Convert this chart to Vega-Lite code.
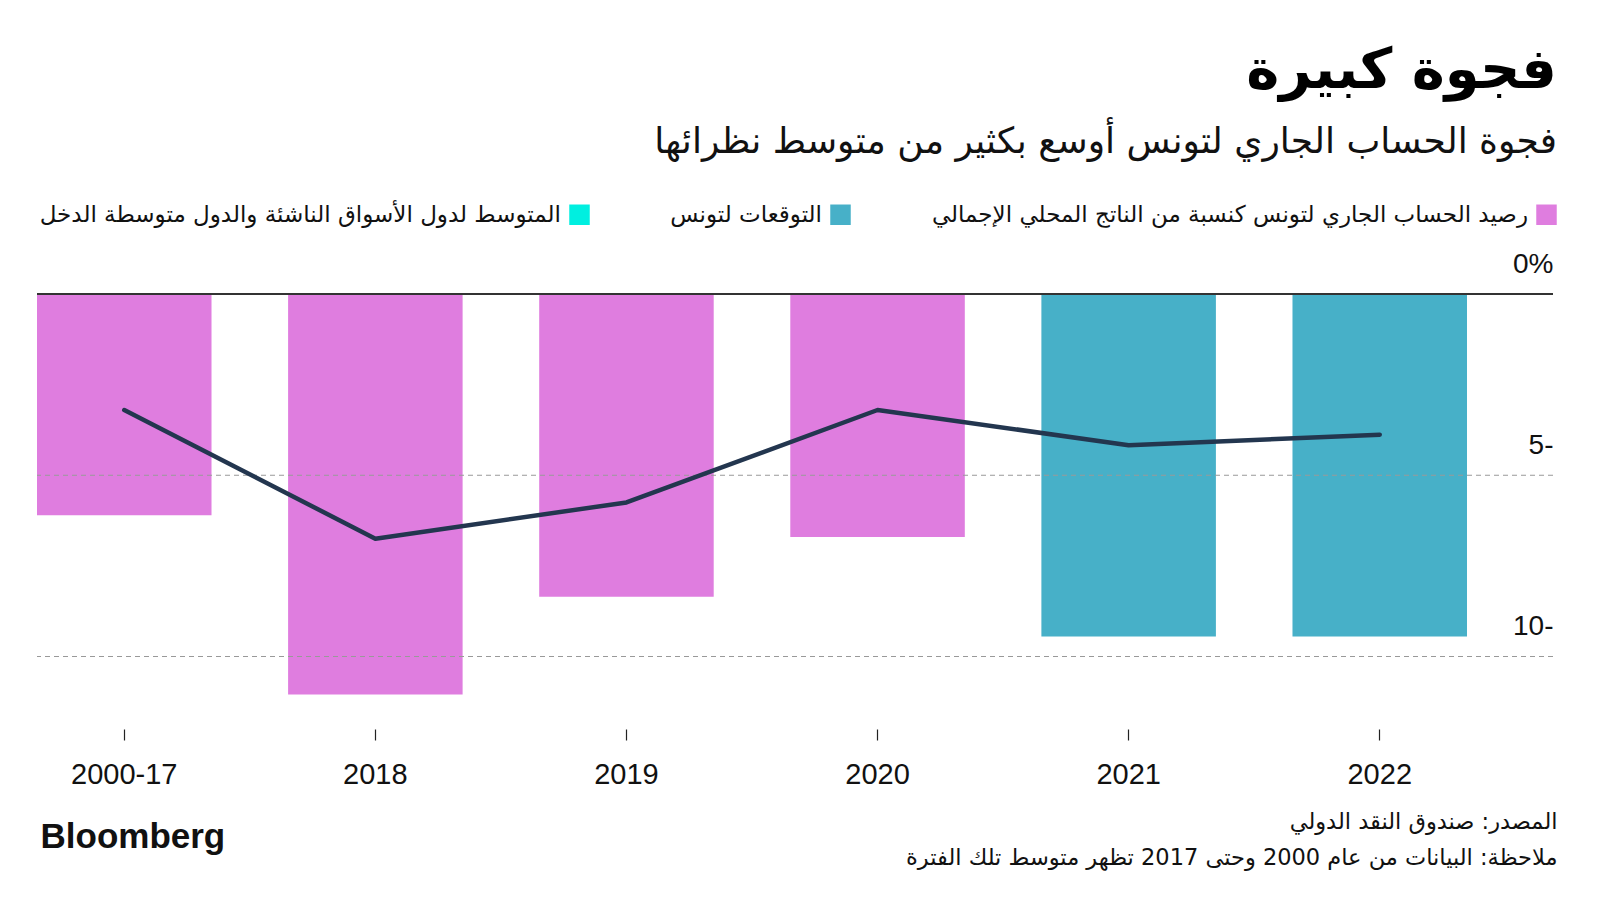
{
  "$schema": "https://vega.github.io/schema/vega-lite/v6.json",
  "width": 1516,
  "height": 435,
  "padding": {"left": 36, "top": 43, "right": 10, "bottom": 10},
  "background": "white",
  "config": {"view": {"stroke": null}, "font": "Liberation Sans"},
  "title": {
    "text": "فجوة كبيرة",
    "subtitle": "فجوة الحساب الجاري لتونس أوسع بكثير من متوسط نظرائها",
    "anchor": "end",
    "orient": "top",
    "font": "DejaVu Sans",
    "fontSize": 56,
    "fontWeight": "bold",
    "color": "#000000",
    "subtitleFont": "DejaVu Sans",
    "subtitleFontSize": 36,
    "subtitleColor": "#111111",
    "subtitlePadding": 25,
    "offset": 42
  },
  "data": {
    "values": [
      {"period": "2000-17", "value": -6.1, "series": "رصيد الحساب الجاري لتونس كنسبة من الناتج المحلي الإجمالي", "avg": -3.2},
      {"period": "2018", "value": -11.05, "series": "رصيد الحساب الجاري لتونس كنسبة من الناتج المحلي الإجمالي", "avg": -6.75},
      {"period": "2019", "value": -8.35, "series": "رصيد الحساب الجاري لتونس كنسبة من الناتج المحلي الإجمالي", "avg": -5.75},
      {"period": "2020", "value": -6.7, "series": "رصيد الحساب الجاري لتونس كنسبة من الناتج المحلي الإجمالي", "avg": -3.2},
      {"period": "2021", "value": -9.45, "series": "التوقعات لتونس", "avg": -4.17},
      {"period": "2022", "value": -9.45, "series": "التوقعات لتونس", "avg": -3.88}
    ]
  },
  "layer": [
    {
      "mark": {"type": "bar"},
      "encoding": {
        "x": {
          "field": "period",
          "type": "nominal",
          "sort": null,
          "scale": {"range": [0, 1430], "paddingInner": 0.305, "paddingOuter": 0},
          "axis": {
            "title": "Bloomberg",
            "titleAnchor": "start",
            "titleAlign": "left",
            "titleX": 3,
            "titleY": 118,
            "titleBaseline": "alphabetic",
            "titleFont": "Liberation Sans",
            "titleFontSize": 35,
            "titleFontWeight": "bold",
            "titleColor": "#111111",
            "labelAngle": 0,
            "labelFont": "Liberation Sans",
            "labelFontSize": 29,
            "labelColor": "#111111",
            "labelPadding": 20,
            "tickSize": 11,
            "tickColor": "#222222",
            "tickWidth": 1.2,
            "domain": false,
            "grid": false
          }
        },
        "y": {
          "field": "value",
          "type": "quantitative",
          "scale": {"domain": [-12, 0], "nice": false, "zero": false},
          "axis": {
            "orient": "right",
            "values": [0, -5, -10],
            "title": ["المصدر: صندوق النقد الدولي", "ملاحظة: البيانات من عام 2000 وحتى 2017 تظهر متوسط تلك الفترة"],
            "titleAngle": 0,
            "titleAlign": "right",
            "titleX": 4,
            "titleY": 534,
            "titleBaseline": "alphabetic",
            "titleFont": "DejaVu Sans",
            "titleFontSize": 22.5,
            "titleFontWeight": "normal",
            "titleColor": "#111111",
            "titleLineHeight": 36,
            "labelExpr": "datum.value == 0 ? '0%' : (abs(datum.value) + '-')",
            "labelAlign": "right",
            "labelPadding": 0,
            "labelOffset": -30,
            "labelBaseline": "middle",
            "labelFont": "Liberation Sans",
            "labelFontSize": 28,
            "labelColor": "#111111",
            "ticks": false,
            "tickSize": 0,
            "domain": false,
            "grid": false
          }
        },
        "color": {
          "field": "series",
          "type": "nominal",
          "scale": {
            "domain": ["المتوسط لدول الأسواق الناشئة والدول متوسطة الدخل", "التوقعات لتونس", "رصيد الحساب الجاري لتونس كنسبة من الناتج المحلي الإجمالي"],
            "range": ["#00EFE0", "#47B0C8", "#DF7DDF"]
          },
          "legend": {
            "orient": "none",
            "legendX": 531,
            "legendY": -91,
            "direction": "horizontal",
            "title": null,
            "symbolType": "square",
            "symbolSize": 420,
            "symbolStrokeWidth": 0,
            "symbolOpacity": 1,
            "labelAlign": "right",
            "labelOffset": -30,
            "labelBaseline": "middle",
            "labelFont": "DejaVu Sans",
            "labelFontSize": 23,
            "labelColor": "#111111",
            "labelLimit": 2000,
            "columnPadding": 80
          }
        }
      }
    },
    {
      "data": {"values": [{"grid": -5}, {"grid": -10}]},
      "mark": {"type": "rule", "color": "#999999", "strokeWidth": 1, "strokeDash": [5, 4]},
      "encoding": {"y": {"field": "grid", "type": "quantitative"}}
    },
    {
      "mark": {"type": "rule", "color": "#333333", "strokeWidth": 2},
      "encoding": {"y": {"datum": 0}}
    },
    {
      "mark": {"type": "line", "color": "#23364F", "strokeWidth": 4.5, "strokeCap": "round", "strokeJoin": "round"},
      "encoding": {
        "x": {"field": "period", "type": "nominal", "sort": null},
        "y": {"field": "avg", "type": "quantitative"}
      }
    }
  ]
}
